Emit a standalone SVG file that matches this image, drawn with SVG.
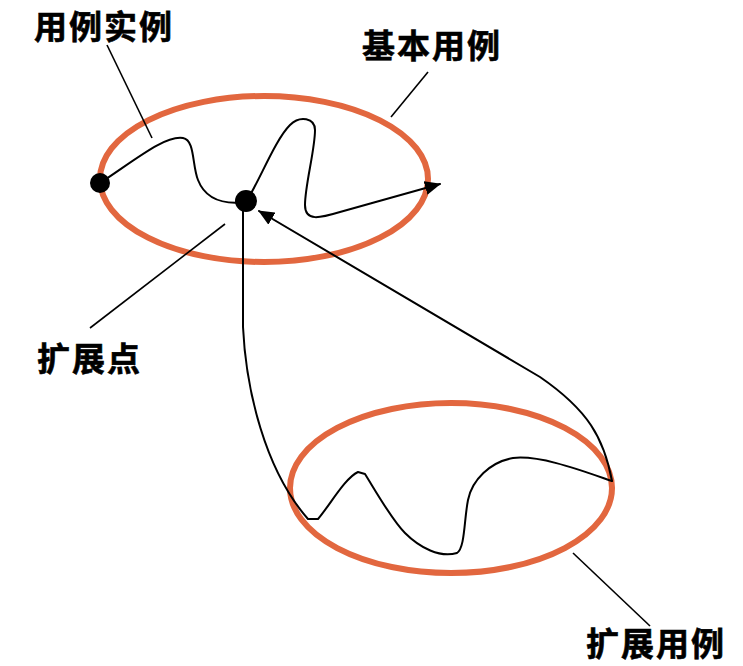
<svg xmlns="http://www.w3.org/2000/svg" width="743" height="666" viewBox="0 0 743 666">
<style>
.uc{fill:none;stroke:#e2673f;stroke-width:6}
.ln{fill:none;stroke:#000;stroke-width:2;stroke-linejoin:round;stroke-linecap:round}
.ld{fill:none;stroke:#000;stroke-width:1.6}
.dot{fill:#000}
.lbl{font-family:"Noto Sans CJK SC","Noto Sans",sans-serif;font-weight:bold;font-size:33px;letter-spacing:2px;fill:#000;stroke:#000;stroke-width:0.6}
</style>
<defs>
<marker id="arr" viewBox="0 0 16 14" refX="15" refY="7" markerWidth="16" markerHeight="14" markerUnits="userSpaceOnUse" orient="auto">
<path d="M0,0 L16,7 L0,14 Z" fill="#000"/>
</marker>
</defs>
<rect width="743" height="666" fill="#fff"/>
<g id="basic-usecase">
<ellipse class="uc" cx="264" cy="179" rx="164" ry="83"/>
</g>
<g id="extension-usecase">
<ellipse class="uc" cx="451" cy="488" rx="161" ry="85"/>
</g>
<g id="connectors">
<path class="ln" d="M100,183 C135,160 165,135 183,138 C195,140 192,165 198,180 C205,198 222,205 246,202"/>
<path class="ln" d="M246,202 C260,180 275,140 290,125 C300,115 315,118 315,130 C315,150 305,185 305,205 C305,222 320,218 340,212 L440,184" marker-end="url(#arr)"/>
<path class="ln" d="M243,205 L243,327 C246,390 265,470 308,519 L318,519 C330,505 345,478 358,472 L365,474 C378,495 392,520 405,533 C420,548 440,558 457,553 C465,548 464,520 468,500 C472,480 490,462 513,458 C540,455 580,470 612,481"/>
<path class="ln" d="M612,481 C604,438 588,410 540,377 L259,211" marker-end="url(#arr)"/>
<line class="ld" x1="107" y1="45" x2="152" y2="138"/>
<line class="ld" x1="428" y1="72" x2="391" y2="117"/>
<line class="ld" x1="90" y1="328" x2="225" y2="224"/>
<line class="ld" x1="573" y1="553" x2="650" y2="626"/>
</g>
<g id="start-point"><circle class="dot" cx="100" cy="183" r="10"/></g>
<g id="extension-point"><circle class="dot" cx="246" cy="201" r="11"/></g>
<g id="label-instance"><text class="lbl" x="34" y="39">用例实例</text></g>
<g id="label-basic"><text class="lbl" x="362" y="58">基本用例</text></g>
<g id="label-point"><text class="lbl" x="37" y="371">扩展点</text></g>
<g id="label-extension"><text class="lbl" x="586" y="656">扩展用例</text></g>
</svg>
